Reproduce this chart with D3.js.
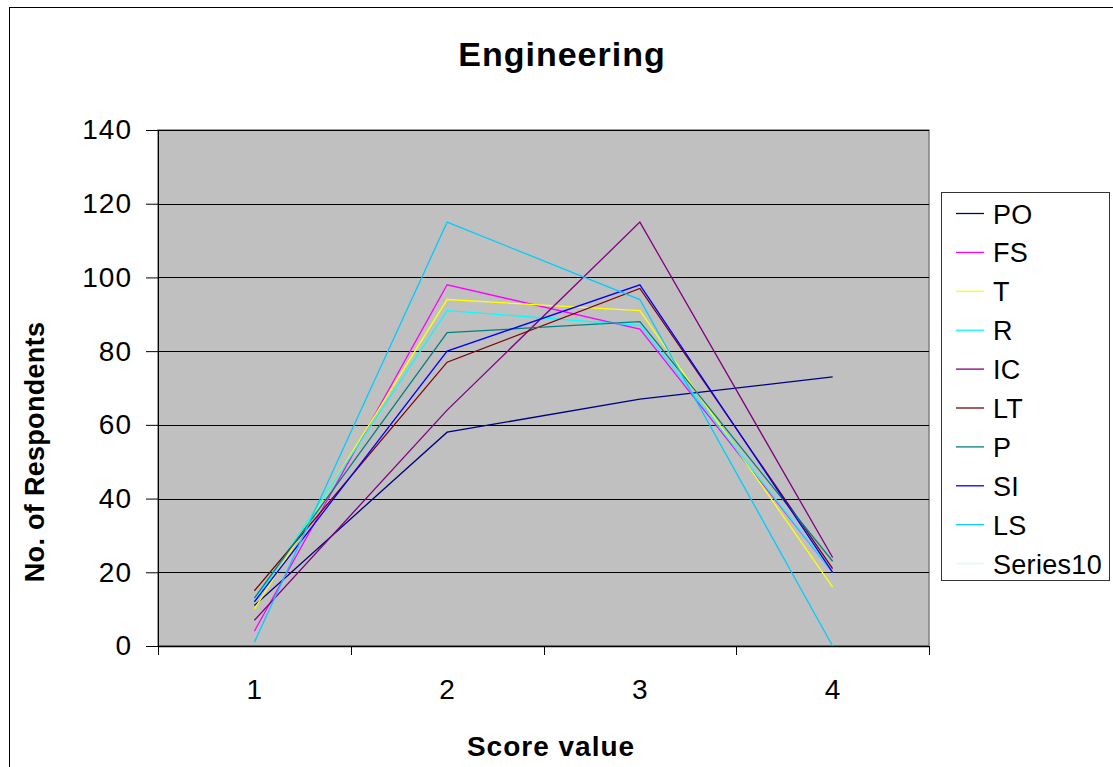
<!DOCTYPE html>
<html>
<head>
<meta charset="utf-8">
<script src="https://cdn.jsdelivr.net/npm/d3@7"></script>
<style>
  body { margin: 0; background: #fff; }
  svg { display: block; font-family: "Liberation Sans", Arial, sans-serif; }
</style>
</head>
<body>
<div class="canvas"></div>
<script>
// data
const scores = [1, 2, 3, 4];
const seriesNames = ['PO', 'FS', 'T', 'R', 'IC', 'LT', 'P', 'SI', 'LS', 'Series10'];
const seriesColors = ['#000080', '#FF00FF', '#FFFF00', '#00FFFF', '#800080', '#800000', '#008080', '#0000FF', '#00CCFF', '#CCFFFF'];
const PO = [11, 58, 67, 73];
const FS = [4, 98, 86, 20];
const T = [10, 94, 91, 16];
const R = [12, 91, 87, 20];
const IC = [7, 64, 115, 24];
const LT = [15, 77, 97, 21];
const P = [13, 85, 88, 23];
const SI = [12, 80, 98, 20];
const LS = [1, 115, 94, 0];
const Series10 = [];
const seriesValues = [PO, FS, T, R, IC, LT, P, SI, LS, Series10];
const yTicks = [0, 20, 40, 60, 80, 100, 120, 140];

const width = 1113, height = 767;
const plot = { left: 158, top: 130, right: 929, bottom: 646 };

const svg = d3.select('.canvas').append('svg')
    .attr('width', width)
    .attr('height', height);

// outer chart border
svg.append('rect')
    .attr('x', 9.5).attr('y', 7.5)
    .attr('width', 1130).attr('height', 800)
    .attr('fill', '#fff')
    .attr('stroke', '#000')
    .attr('stroke-width', 1);

// scales
const x = d3.scaleBand().domain(scores).range([plot.left, plot.right]);
const y = d3.scaleLinear().domain([0, 140]).range([plot.bottom, plot.top]);
const cx = d => x(d) + x.bandwidth() / 2;

// plot background
svg.append('rect')
    .attr('x', plot.left).attr('y', plot.top)
    .attr('width', plot.right - plot.left).attr('height', plot.bottom - plot.top)
    .attr('fill', '#C0C0C0')
    .attr('stroke', '#808080')
    .attr('stroke-width', 1.5);

// gridlines
svg.append('g')
    .selectAll('line')
    .data(yTicks.filter(d => d > 0))
    .join('line')
    .attr('x1', plot.left).attr('x2', plot.right)
    .attr('y1', d => Math.round(y(d)) + 0.5).attr('y2', d => Math.round(y(d)) + 0.5)
    .attr('stroke', '#000')
    .attr('stroke-width', 1);

// y axis
const yAxis = d3.axisLeft(y)
    .tickValues(yTicks)
    .tickSize(12)
    .tickSizeOuter(0)
    .tickPadding(14);
const yAxisGroup = svg.append('g')
    .attr('transform', `translate(${plot.left},0)`)
    .call(yAxis);
yAxisGroup.select('.domain').attr('stroke', '#000');
yAxisGroup.selectAll('.tick line').attr('stroke', '#000');
yAxisGroup.selectAll('text')
    .attr('font-family', '"Liberation Sans", Arial, sans-serif')
    .attr('font-size', 28)
    .attr('letter-spacing', 1)
    .attr('fill', '#000');

// x axis line + ticks between categories
svg.append('line')
    .attr('x1', plot.left).attr('x2', plot.right)
    .attr('y1', plot.bottom + 0.5).attr('y2', plot.bottom + 0.5)
    .attr('stroke', '#000').attr('stroke-width', 1.5);
svg.append('g')
    .selectAll('line')
    .data(scores.map(d => x(d)).concat([plot.right]))
    .join('line')
    .attr('x1', d => Math.round(d) + 0.5).attr('x2', d => Math.round(d) + 0.5)
    .attr('y1', plot.bottom).attr('y2', plot.bottom + 9)
    .attr('stroke', '#000');
svg.append('g')
    .selectAll('text')
    .data(scores)
    .join('text')
    .attr('x', d => cx(d))
    .attr('y', 699)
    .attr('text-anchor', 'middle')
    .attr('font-size', 28)
    .text(d => d);

// lines
const line = d3.line()
    .x((d, i) => cx(scores[i]))
    .y(d => y(d));

svg.append('g')
    .selectAll('path')
    .data(seriesValues.map((v, i) => ({ name: seriesNames[i], color: seriesColors[i], values: v })))
    .join('path')
    .attr('d', d => d.values.length ? line(d.values) : null)
    .attr('fill', 'none')
    .attr('stroke', d => d.color)
    .attr('stroke-width', 1.3);

// titles
svg.append('text')
    .attr('x', 562).attr('y', 66)
    .attr('text-anchor', 'middle')
    .attr('font-size', 34)
    .attr('font-weight', 'bold')
    .attr('letter-spacing', 1)
    .text('Engineering');

svg.append('text')
    .attr('x', 551).attr('y', 756)
    .attr('text-anchor', 'middle')
    .attr('font-size', 28)
    .attr('font-weight', 'bold')
    .attr('letter-spacing', 1)
    .text('Score value');

svg.append('text')
    .attr('transform', 'translate(44,452) rotate(-90)')
    .attr('text-anchor', 'middle')
    .attr('font-size', 27)
    .attr('font-weight', 'bold')
    .attr('letter-spacing', 0.3)
    .text('No. of Respondents');

// legend
const legend = svg.append('g');
legend.append('rect')
    .attr('x', 941.5).attr('y', 192.5)
    .attr('width', 168).attr('height', 388)
    .attr('fill', '#fff')
    .attr('stroke', '#333');

const item = legend.selectAll('g.item')
    .data(seriesNames)
    .join('g')
    .attr('class', 'item')
    .attr('transform', (d, i) => `translate(0,${213.5 + i * 38.9})`);
item.append('line')
    .attr('x1', 956).attr('x2', 984)
    .attr('y1', 0).attr('y2', 0)
    .attr('stroke', (d, i) => seriesColors[i])
    .attr('stroke-width', 1.3);
item.append('text')
    .attr('x', 993).attr('y', 10)
    .attr('font-size', 27)
    .attr('letter-spacing', 0.3)
    .text(d => d);
</script>
</body>
</html>
